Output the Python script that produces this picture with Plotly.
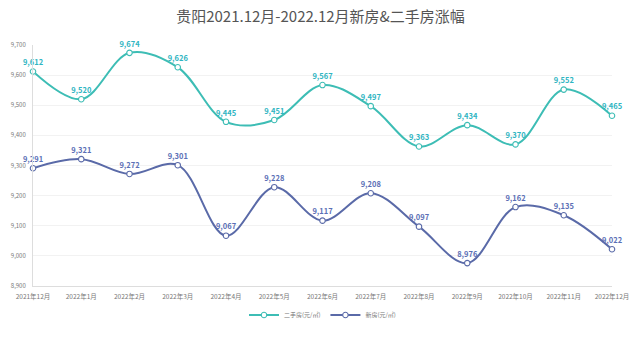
import plotly.graph_objects as go

months = ["2021年12月", "2022年1月", "2022年2月", "2022年3月", "2022年4月", "2022年5月",
          "2022年6月", "2022年7月", "2022年8月", "2022年9月", "2022年10月", "2022年11月", "2022年12月"]
second_hand = [9612, 9520, 9674, 9626, 9445, 9451, 9567, 9497, 9363, 9434, 9370, 9552, 9465]
new_house = [9291, 9321, 9272, 9301, 9067, 9228, 9117, 9208, 9097, 8976, 9162, 9135, 9022]

teal = "#3dbdb5"
teal_txt = "#2fb5c2"
blue = "#5a6aa8"
blue_txt = "#5b6fb6"
font_family = "Noto Sans CJK SC, Noto Sans, sans-serif"

fig = go.Figure()
for name, vals, lc, tc in [("二手房(元/㎡)", second_hand, teal, teal_txt),
                           ("新房(元/㎡)", new_house, blue, blue_txt)]:
    fig.add_trace(go.Scatter(
        x=months, y=vals, name=name,
        mode="lines+markers+text",
        line=dict(color=lc, width=2, shape="spline", smoothing=1.0),
        marker=dict(size=5.5, color="white", line=dict(color=lc, width=1.1)),
        text=[f"{v:,}" for v in vals],
        textposition="top center",
        textfont=dict(color=tc, size=7.5, family=font_family, weight="bold"),
        cliponaxis=False,
    ))

fig.update_layout(
    width=641, height=341,
    margin=dict(l=33, r=29, t=45, b=53),
    paper_bgcolor="white", plot_bgcolor="white",
    title=dict(text="贵阳2021.12月-2022.12月新房&二手房涨幅",
               x=0.5, xanchor="center", y=0.95, yanchor="middle",
               font=dict(size=15, color="#555555", family=font_family)),
    font=dict(family=font_family),
    showlegend=True,
    legend=dict(orientation="h", x=0.5, xanchor="center", y=-0.06, yanchor="top",
                font=dict(size=6, color="#777777"), itemwidth=30),
    xaxis=dict(type="category", range=[0, 12], showgrid=False,
               showline=True, linecolor="#dddddd", linewidth=1,
               ticks="", ticklabelstandoff=4,
               tickfont=dict(size=6.5, color="#777777"), tickangle=0),
    yaxis=dict(range=[8900, 9700], dtick=100, tickformat=",",
               showgrid=True, gridcolor="#f2f2f2", gridwidth=1,
               showline=True, linecolor="#dddddd", linewidth=1,
               zeroline=False, ticks="", ticklabelstandoff=5,
               tickfont=dict(size=6, color="#777777")),
)

fig.write_html("out.html")
